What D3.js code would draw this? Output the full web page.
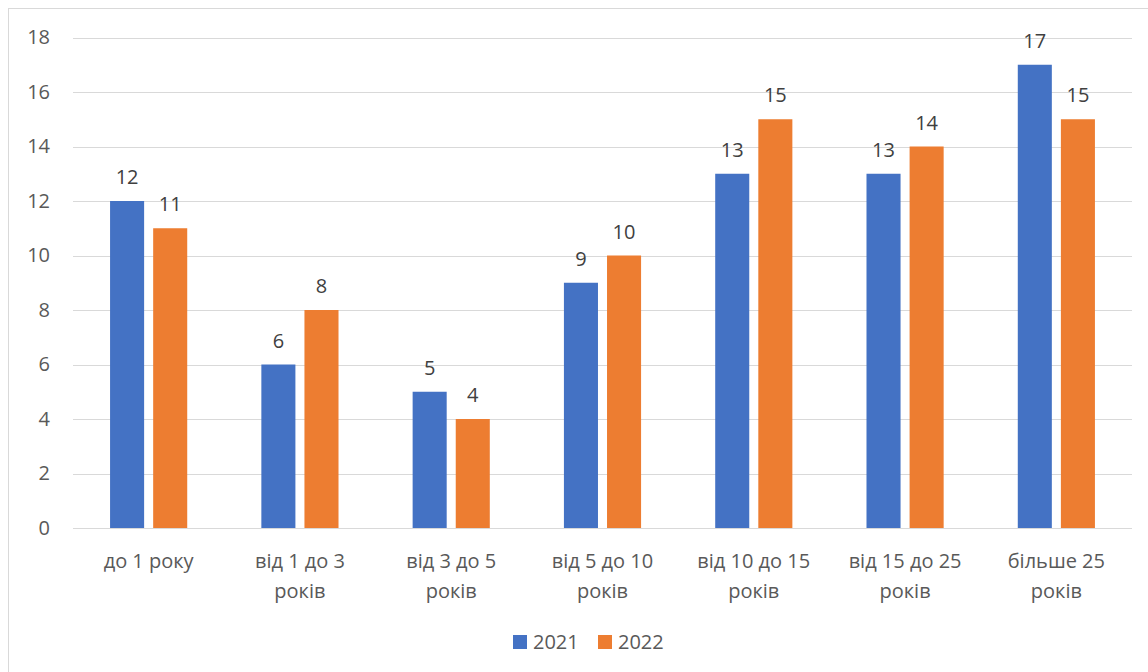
<!DOCTYPE html>
<html>
<head>
<meta charset="utf-8">
<script src="https://cdn.jsdelivr.net/npm/d3@7"></script>
<style>
  body { margin: 0; background: #fff; }
  svg text { font-family: "Open Sans", Lato, sans-serif; }
</style>
</head>
<body>
<div id="chart"></div>
<script>
const categories = [
  ["до 1 року"],
  ["від 1 до 3", "років"],
  ["від 3 до 5", "років"],
  ["від 5 до 10", "років"],
  ["від 10 до 15", "років"],
  ["від 15 до 25", "років"],
  ["більше 25", "років"]
];
const seriesNames = ["2021", "2022"];
const values2021 = [12, 6, 5, 9, 13, 13, 17];
const values2022 = [11, 8, 4, 10, 15, 14, 15];
const yTicks = [0, 2, 4, 6, 8, 10, 12, 14, 16, 18];
const colors = ["#4472c4", "#ed7d31"];

const W = 1148, H = 672;
const MARGIN = { TOP: 37.5, BOTTOM: 144, LEFT: 73, RIGHT: 16 };
const FS = 20;

const svg = d3.select("#chart")
  .append("svg")
  .attr("width", W)
  .attr("height", H);

// chart frame
svg.append("rect")
  .attr("x", 8.5).attr("y", 8.5)
  .attr("width", W).attr("height", H)
  .attr("fill", "#fff")
  .attr("stroke", "#d9d9d9");

const x0 = d3.scaleBand()
  .domain(d3.range(categories.length))
  .range([MARGIN.LEFT, W - MARGIN.RIGHT])
  .paddingInner(0.49)
  .paddingOuter(0.245);

const x1 = d3.scaleBand()
  .domain(seriesNames)
  .range([0, x0.bandwidth()])
  .paddingInner(0.21);

const y = d3.scaleLinear()
  .domain([0, 18])
  .range([H - MARGIN.BOTTOM, MARGIN.TOP]);

// gridlines
svg.append("g")
  .selectAll("line")
  .data(yTicks)
  .join("line")
  .attr("x1", MARGIN.LEFT)
  .attr("x2", W - MARGIN.RIGHT)
  .attr("y1", d => Math.round(y(d)) + 0.5)
  .attr("y2", d => Math.round(y(d)) + 0.5)
  .attr("stroke", "#d9d9d9")
  .attr("stroke-width", 1);

// y axis labels
const yAxis = d3.axisLeft(y).tickValues(yTicks).tickSize(0).tickPadding(0);
const gy = svg.append("g")
  .attr("transform", `translate(50,0)`)
  .call(yAxis);
gy.select(".domain").remove();
gy.selectAll("text")
  .attr("font-size", FS)
  .attr("fill", "#595959")
  .style("font-family", "'Open Sans', sans-serif");

const data = categories.map((c, i) => ({
  i: i,
  vals: [
    { key: seriesNames[0], v: values2021[i], c: colors[0] },
    { key: seriesNames[1], v: values2022[i], c: colors[1] }
  ]
}));

const groups = svg.append("g")
  .selectAll("g")
  .data(data)
  .join("g")
  .attr("transform", d => `translate(${x0(d.i)},0)`);

groups.selectAll("rect")
  .data(d => d.vals)
  .join("rect")
  .attr("x", d => x1(d.key))
  .attr("y", d => y(d.v))
  .attr("width", x1.bandwidth())
  .attr("height", d => y(0) - y(d.v))
  .attr("fill", d => d.c);

groups.selectAll("text.val")
  .data(d => d.vals)
  .join("text")
  .attr("class", "val")
  .attr("x", d => x1(d.key) + x1.bandwidth() / 2)
  .attr("y", d => y(d.v) - 17)
  .attr("text-anchor", "middle")
  .attr("font-size", FS)
  .attr("fill", "#404040")
  .text(d => d.v);

// category labels
const gx = svg.append("g");
categories.forEach((lines, i) => {
  const t = gx.append("text")
    .attr("x", x0(i) + x0.bandwidth() / 2)
    .attr("y", y(0) + 40)
    .attr("text-anchor", "middle")
    .attr("font-size", FS)
    .attr("fill", "#595959");
  lines.forEach((ln, k) => {
    t.append("tspan")
      .attr("x", x0(i) + x0.bandwidth() / 2)
      .attr("dy", k === 0 ? 0 : 30)
      .text(ln);
  });
});

// legend
const legendItems = [
  { name: seriesNames[0], c: colors[0], x: 513 },
  { name: seriesNames[1], c: colors[1], x: 598 }
];
const lg = svg.append("g");
legendItems.forEach(d => {
  lg.append("rect")
    .attr("x", d.x).attr("y", 635)
    .attr("width", 14).attr("height", 14)
    .attr("fill", d.c);
  lg.append("text")
    .attr("x", d.x + 20)
    .attr("y", 649)
    .attr("font-size", FS)
    .attr("fill", "#595959")
    .text(d.name);
});
</script>
</body>
</html>
